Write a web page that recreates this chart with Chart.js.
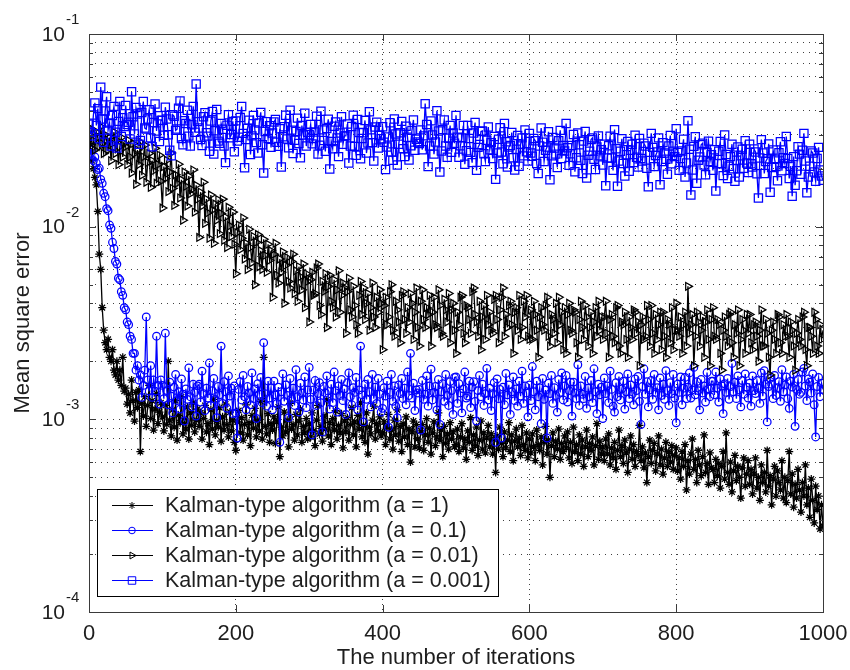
<!DOCTYPE html>
<html>
<head>
<meta charset="utf-8">
<title>Mean square error</title>
<script src="https://cdn.jsdelivr.net/npm/chart.js@4.4.0/dist/chart.umd.min.js"></script>
<style>
  html, body { margin: 0; padding: 0; background: #fff; }
  #wrap { width: 850px; height: 670px; position: relative; }
</style>
</head>
<body>
<div id="wrap"><canvas id="mse" width="850" height="670"></canvas></div>
<script>
// every 2 iterations, one row = 50 iterations
const iterations = []
for (let n = 0; n <= 1000; n += 2) iterations.push(n)

const mseA1 = [
  0.027, 0.025, 0.022, 0.020, 0.018, 0.0165, 0.012, 0.0072, 0.0060, 0.0038, 0.0029, 0.0025, 0.0023, 0.0026, 0.0021, 0.0020, 0.0023, 0.0018, 0.0017, 0.0020, 0.0016, 0.0018, 0.0015, 0.0021, 0.0014,
  0.00145, 0.0012, 0.00135, 0.00108, 0.0016, 0.00125, 0.00098, 0.00138, 0.00115, 0.00142, 0.00068, 0.00121, 0.00104, 0.00131, 0.00092, 0.00118, 0.0015, 0.00101, 0.00125, 0.00088, 0.00113, 0.00136, 0.00095, 0.00109, 0.00122,
  0.00103, 0.00087, 0.00118, 0.00094, 0.0020, 0.00099, 0.00082, 0.00112, 0.00091, 0.00125, 0.00078, 0.00105, 0.00096, 0.00131, 0.00084, 0.00101, 0.00089, 0.00116, 0.00079, 0.00108, 0.00093, 0.00122, 0.00086, 0.00099, 0.00113,
  0.00092, 0.00108, 0.00079, 0.00101, 0.00118, 0.00086, 0.00095, 0.00074, 0.00112, 0.00089, 0.00127, 0.00083, 0.00098, 0.00091, 0.00115, 0.00077, 0.00103, 0.00088, 0.0012, 0.00094, 0.00081, 0.00109, 0.00087, 0.00099, 0.00076,
  0.00069, 0.00097, 0.00111, 0.00085, 0.00102, 0.00078, 0.00094, 0.00119, 0.00083, 0.00096, 0.00073, 0.00105, 0.0009, 0.00114, 0.00081, 0.00099, 0.00087, 0.00124, 0.00079, 0.0021, 0.00092, 0.00084, 0.00107, 0.00076, 0.00095,
  0.00088, 0.00103, 0.00075, 0.00097, 0.00116, 0.00064, 0.00091, 0.00082, 0.00109, 0.00086, 0.00099, 0.00072, 0.00121, 0.00089, 0.00094, 0.00078, 0.00106, 0.00083, 0.00098, 0.00113, 0.00076, 0.00092, 0.00085, 0.00101, 0.00079,
  0.00095, 0.00081, 0.00108, 0.00087, 0.00073, 0.00099, 0.00118, 0.00084, 0.00092, 0.00077, 0.00104, 0.00089, 0.00126, 0.00082, 0.00096, 0.00074, 0.00101, 0.00088, 0.00111, 0.00079, 0.00093, 0.00085, 0.00107, 0.00071, 0.00098,
  0.00086, 0.00102, 0.00078, 0.00094, 0.00115, 0.00083, 0.00097, 0.00072, 0.00105, 0.00089, 0.00122, 0.00081, 0.00093, 0.00076, 0.00108, 0.00066, 0.00091, 0.00084, 0.00099, 0.00117, 0.00079, 0.00095, 0.00087, 0.00103, 0.00082,
  0.00085, 0.00097, 0.00074, 0.00091, 0.00106, 0.00079, 0.00088, 0.0007, 0.00099, 0.00083, 0.00112, 0.00077, 0.00092, 0.00068, 0.00095, 0.00081, 0.00103, 0.00074, 0.00089, 0.0006, 0.00086, 0.00098, 0.00072, 0.00094, 0.00079,
  0.00071, 0.00087, 0.00094, 0.00069, 0.00083, 0.00101, 0.00076, 0.0009, 0.00066, 0.00085, 0.00097, 0.00073, 0.00081, 0.00108, 0.00078, 0.00088, 0.00064, 0.00092, 0.00075, 0.00084, 0.0007, 0.00096, 0.00079, 0.00086, 0.00072,
  0.00074, 0.00089, 0.00068, 0.00081, 0.00095, 0.00071, 0.00079, 0.00062, 0.00087, 0.00076, 0.00102, 0.00069, 0.00083, 0.00073, 0.00091, 0.00065, 0.00078, 0.00098, 0.0007, 0.00085, 0.00067, 0.0008, 0.00093, 0.00072, 0.00084,
  0.00066, 0.00079, 0.00053, 0.00082, 0.0007, 0.00091, 0.00075, 0.00064, 0.00086, 0.00071, 0.00078, 0.00096, 0.00068, 0.00083, 0.00061, 0.00077, 0.00089, 0.00072, 0.0008, 0.00065, 0.00093, 0.00074, 0.00069, 0.00085, 0.00063,
  0.00079, 0.00067, 0.00084, 0.00072, 0.00061, 0.00088, 0.00074, 0.00069, 0.00081, 0.00058, 0.00076, 0.00092, 0.00066, 0.00078, 0.0005, 0.00073, 0.00085, 0.00064, 0.00077, 0.0007, 0.00089, 0.00062, 0.00075, 0.00068, 0.00082,
  0.00071, 0.00086, 0.00063, 0.00076, 0.00059, 0.00091, 0.00068, 0.00074, 0.00061, 0.00083, 0.00066, 0.00078, 0.00057, 0.00072, 0.00088, 0.00064, 0.00075, 0.00069, 0.00081, 0.00058, 0.00073, 0.00095, 0.00062, 0.00077, 0.00066,
  0.00072, 0.00061, 0.00079, 0.00066, 0.00084, 0.00058, 0.00071, 0.00063, 0.00076, 0.00055, 0.00069, 0.00088, 0.00064, 0.00073, 0.00059, 0.00078, 0.00067, 0.00053, 0.0007, 0.00082, 0.00062, 0.00074, 0.00057, 0.00068, 0.00065,
  0.00093, 0.00061, 0.00072, 0.00056, 0.00067, 0.00047, 0.00064, 0.00078, 0.00059, 0.00069, 0.00075, 0.00054, 0.00066, 0.00082, 0.00058, 0.0007, 0.00052, 0.00063, 0.00076, 0.00057, 0.00068, 0.0006, 0.00073, 0.00055, 0.00065,
  0.00071, 0.00054, 0.00063, 0.00049, 0.00068, 0.00057, 0.00074, 0.00043, 0.00061, 0.00052, 0.00066, 0.00079, 0.00055, 0.00062, 0.00047, 0.00069, 0.00058, 0.00051, 0.00064, 0.00083, 0.00053, 0.00059, 0.00046, 0.00067, 0.00056,
  0.00055, 0.00047, 0.00062, 0.00051, 0.00059, 0.00044, 0.00057, 0.00068, 0.00049, 0.00085, 0.00053, 0.00046, 0.0006, 0.00042, 0.00054, 0.00065, 0.00048, 0.00057, 0.0005, 0.00039, 0.00056, 0.00063, 0.00045, 0.00052, 0.00061,
  0.00046, 0.00055, 0.00041, 0.00052, 0.00063, 0.00044, 0.0005, 0.00038, 0.00058, 0.00047, 0.00053, 0.00042, 0.00069, 0.00045, 0.00051, 0.00036, 0.00049, 0.00057, 0.0004, 0.00054, 0.00047, 0.00043, 0.00061, 0.00039, 0.0005,
  0.00037, 0.00048, 0.00068, 0.00041, 0.00052, 0.00035, 0.00046, 0.00039, 0.00055, 0.00043, 0.00033, 0.00047, 0.0004, 0.00058, 0.00036, 0.00044, 0.00031, 0.00049, 0.00038, 0.00029, 0.00045, 0.00034, 0.0004, 0.00027, 0.00036,
  0.00028
]

const mseA01 = [
  0.026, 0.024, 0.025, 0.022, 0.023, 0.0214, 0.0198, 0.0201, 0.0176, 0.0168, 0.0149, 0.0143, 0.0124, 0.0121, 0.0102, 0.0098, 0.0083, 0.0077, 0.0066, 0.0064, 0.0054, 0.0053, 0.0046, 0.0044, 0.0038,
  0.0037, 0.0032, 0.0031, 0.0027, 0.0026, 0.0022, 0.0022, 0.0018, 0.0019, 0.0016, 0.0017, 0.0013, 0.0015, 0.0018, 0.0034, 0.0016, 0.0014, 0.0019, 0.0013, 0.0016, 0.0014, 0.0027, 0.0015, 0.0012, 0.0016,
  0.0015, 0.00128, 0.0028, 0.00141, 0.00119, 0.00156, 0.00132, 0.00108, 0.00147, 0.00171, 0.00125, 0.00139, 0.00113, 0.00162, 0.00135, 0.00098, 0.00144, 0.00127, 0.00185, 0.00131, 0.00116, 0.00152, 0.00138, 0.00104, 0.00149,
  0.00152, 0.00123, 0.00178, 0.00136, 0.00111, 0.00145, 0.00129, 0.00196, 0.00118, 0.00141, 0.00163, 0.00127, 0.00102, 0.00148, 0.00134, 0.0024, 0.00121, 0.00157, 0.00139, 0.00114, 0.00168, 0.00132, 0.00145, 0.00107, 0.00149,
  0.00108, 0.0008, 0.00143, 0.00157, 0.00126, 0.00169, 0.00131, 0.00112, 0.00148, 0.00137, 0.00119, 0.00174, 0.00128, 0.00144, 0.00101, 0.00153, 0.00135, 0.00165, 0.00122, 0.0025, 0.00136, 0.00117, 0.00158, 0.00129, 0.00146,
  0.00112, 0.00158, 0.00134, 0.00121, 0.00147, 0.00076, 0.00139, 0.00172, 0.00124, 0.00151, 0.00133, 0.00102, 0.00163, 0.00128, 0.00145, 0.00118, 0.00181, 0.00131, 0.00109, 0.00154, 0.00137, 0.00126, 0.00166, 0.00115, 0.00142,
  0.00186, 0.00127, 0.00083, 0.00142, 0.00159, 0.00118, 0.00136, 0.00155, 0.00122, 0.00086, 0.00148, 0.00137, 0.00168, 0.00129, 0.00113, 0.00152, 0.00122, 0.00176, 0.00141, 0.00109, 0.00149, 0.00133, 0.00161, 0.00125, 0.00144,
  0.00106, 0.00155, 0.00174, 0.00131, 0.00119, 0.00146, 0.00138, 0.00165, 0.00112, 0.00142, 0.0024, 0.00134, 0.00097, 0.00152, 0.00127, 0.00161, 0.00139, 0.00116, 0.00171, 0.00128, 0.00147, 0.00121, 0.00163, 0.00135, 0.00109,
  0.00114, 0.00146, 0.00132, 0.00158, 0.00091, 0.00138, 0.00171, 0.00124, 0.00149, 0.00117, 0.00102, 0.00151, 0.00136, 0.00163, 0.00128, 0.00145, 0.00119, 0.00176, 0.00133, 0.0022, 0.00129, 0.00154, 0.00111, 0.00142, 0.00137,
  0.00143, 0.00088, 0.00159, 0.00127, 0.00135, 0.00168, 0.00117, 0.00149, 0.00182, 0.00126, 0.00138, 0.00148, 0.00112, 0.00161, 0.00094, 0.00139, 0.00153, 0.00124, 0.00171, 0.00133, 0.00118, 0.00157, 0.00141, 0.00106, 0.00165,
  0.00166, 0.00121, 0.00153, 0.00137, 0.00108, 0.00144, 0.00176, 0.00129, 0.00132, 0.00158, 0.00115, 0.00147, 0.00157, 0.00124, 0.00098, 0.00141, 0.00169, 0.00131, 0.00152, 0.00118, 0.00136, 0.00184, 0.00126, 0.00145, 0.00111,
  0.00136, 0.00155, 0.00076, 0.00162, 0.00128, 0.00143, 0.0008, 0.00147, 0.00119, 0.00173, 0.00134, 0.00151, 0.00106, 0.00139, 0.00166, 0.00125, 0.00144, 0.00117, 0.00158, 0.00132, 0.00178, 0.00121, 0.00149, 0.00137, 0.00103,
  0.00151, 0.00125, 0.00188, 0.00139, 0.00112, 0.00158, 0.00131, 0.00146, 0.00095, 0.00163, 0.00127, 0.00142, 0.0008, 0.00154, 0.00136, 0.00169, 0.00121, 0.00146, 0.00133, 0.00109, 0.00161, 0.00138, 0.00174, 0.00126, 0.00149,
  0.00169, 0.00123, 0.00141, 0.00156, 0.00104, 0.00156, 0.00137, 0.00128, 0.00192, 0.00118, 0.00149, 0.00135, 0.00128, 0.00167, 0.00114, 0.00145, 0.00131, 0.00159, 0.00122, 0.00183, 0.00139, 0.00107, 0.00152, 0.00134, 0.00147,
  0.00101, 0.00164, 0.00136, 0.00149, 0.00122, 0.00178, 0.00143, 0.00117, 0.00109, 0.00155, 0.00131, 0.00167, 0.00126, 0.00144, 0.00158, 0.00113, 0.00139, 0.00172, 0.00128, 0.00151, 0.00135, 0.00119, 0.00162, 0.00141, 0.00167,
  0.00124, 0.00094, 0.00148, 0.00183, 0.00135, 0.00157, 0.00116, 0.00142, 0.00159, 0.00127, 0.00171, 0.00138, 0.00146, 0.00112, 0.00164, 0.00133, 0.00152, 0.00127, 0.00179, 0.00141, 0.00118, 0.00155, 0.00136, 0.00171, 0.00129,
  0.00096, 0.00152, 0.00138, 0.00166, 0.00119, 0.00145, 0.00165, 0.00128, 0.00147, 0.00174, 0.00129, 0.00142, 0.00186, 0.00134, 0.00157, 0.00141, 0.00112, 0.00161, 0.00137, 0.00149, 0.00123, 0.00175, 0.00144, 0.00131, 0.00158,
  0.00158, 0.00134, 0.00176, 0.00145, 0.00123, 0.00162, 0.00149, 0.00107, 0.00153, 0.00138, 0.00163, 0.00127, 0.00148, 0.00195, 0.00139, 0.00156, 0.00128, 0.00168, 0.00142, 0.00116, 0.00159, 0.00135, 0.00172, 0.00147, 0.00129,
  0.00154, 0.00117, 0.00168, 0.00141, 0.00136, 0.00159, 0.00145, 0.00121, 0.00174, 0.00132, 0.00179, 0.00152, 0.00097, 0.00148, 0.00163, 0.00152, 0.00128, 0.00169, 0.00133, 0.00146, 0.00157, 0.00124, 0.00181, 0.00139, 0.00151,
  0.00166, 0.00128, 0.00114, 0.00158, 0.00147, 0.00171, 0.00092, 0.00143, 0.00161, 0.00135, 0.00138, 0.00176, 0.00184, 0.00149, 0.00125, 0.00162, 0.00156, 0.00137, 0.00172, 0.00119, 0.00081, 0.00148, 0.00165, 0.00131, 0.00154,
  0.00143
]

const mseA001 = [
  0.030, 0.027, 0.032, 0.028, 0.025, 0.031, 0.029, 0.026, 0.033, 0.027, 0.024, 0.030, 0.028, 0.025, 0.029, 0.022, 0.027, 0.031, 0.024, 0.028, 0.021, 0.026, 0.029, 0.023, 0.027,
  0.026, 0.021, 0.028, 0.023, 0.019, 0.027, 0.024, 0.0166, 0.025, 0.021, 0.0275, 0.0185, 0.023, 0.0265, 0.017, 0.0215, 0.024, 0.016, 0.022, 0.0195, 0.0255, 0.0168, 0.021, 0.0235, 0.0172,
  0.0125, 0.0205, 0.0178, 0.0221, 0.0152, 0.0192, 0.0241, 0.0158, 0.0129, 0.0186, 0.0168, 0.0211, 0.0141, 0.0175, 0.0108, 0.0192, 0.0162, 0.0128, 0.0183, 0.0148, 0.0156, 0.0197, 0.0119, 0.0164, 0.0139,
  0.0088, 0.0151, 0.0128, 0.017, 0.0104, 0.0139, 0.0118, 0.0087, 0.0146, 0.0122, 0.0082, 0.0131, 0.0108, 0.0138, 0.0092, 0.0117, 0.0139, 0.0085, 0.0112, 0.0078, 0.0126, 0.0101, 0.0089, 0.0119, 0.0081,
  0.0057, 0.0093, 0.0102, 0.0076, 0.0087, 0.0111, 0.0068, 0.0082, 0.006, 0.0097, 0.0078, 0.0065, 0.0089, 0.005, 0.0083, 0.0091, 0.0062, 0.0075, 0.006, 0.0086, 0.0071, 0.0058, 0.0081, 0.0067, 0.0075,
  0.0043, 0.0072, 0.0082, 0.0056, 0.0051, 0.0068, 0.0058, 0.0074, 0.004, 0.0063, 0.0069, 0.0052, 0.0048, 0.0066, 0.0072, 0.0045, 0.0059, 0.0041, 0.0062, 0.0055, 0.0047, 0.0064, 0.0038, 0.0057, 0.0052,
  0.0032, 0.0053, 0.0058, 0.0044, 0.0045, 0.0061, 0.0064, 0.0039, 0.0035, 0.0052, 0.0046, 0.0057, 0.003, 0.0049, 0.0056, 0.0041, 0.0038, 0.0053, 0.0034, 0.0047, 0.0059, 0.0036, 0.0044, 0.0051, 0.0048,
  0.0028, 0.0046, 0.0054, 0.0037, 0.0034, 0.0049, 0.0039, 0.0031, 0.0028, 0.0044, 0.0052, 0.0035, 0.0048, 0.0033, 0.004, 0.0045, 0.0029, 0.0038, 0.0051, 0.0034, 0.003, 0.0043, 0.0036, 0.0047, 0.004,
  0.0023, 0.0039, 0.0043, 0.0031, 0.0034, 0.0046, 0.005, 0.0029, 0.0027, 0.0041, 0.0037, 0.0032, 0.0025, 0.0044, 0.0046, 0.0033, 0.0028, 0.0038, 0.0032, 0.0045, 0.004, 0.0026, 0.0036, 0.0048, 0.003,
  0.0024, 0.0041, 0.0047, 0.0033, 0.003, 0.0038, 0.0035, 0.0044, 0.0024, 0.0036, 0.0043, 0.0031, 0.003, 0.0047, 0.0039, 0.0028, 0.0027, 0.0042, 0.0037, 0.0032, 0.0045, 0.0025, 0.0037, 0.004, 0.0029,
  0.0022, 0.0036, 0.0031, 0.0043, 0.0044, 0.0028, 0.0025, 0.0039, 0.0038, 0.0033, 0.0028, 0.0046, 0.0048, 0.0035, 0.0032, 0.0027, 0.0041, 0.0023, 0.0034, 0.0039, 0.0026, 0.0044, 0.0031, 0.0036, 0.0029,
  0.0028, 0.0042, 0.0044, 0.0033, 0.0025, 0.0037, 0.0043, 0.0048, 0.0027, 0.0035, 0.003, 0.0039, 0.0041, 0.0031, 0.0022, 0.0036, 0.0038, 0.0029, 0.0044, 0.0026, 0.003, 0.0041, 0.0034, 0.0044, 0.0027,
  0.0026, 0.0037, 0.0026, 0.0041, 0.0035, 0.0029, 0.0021, 0.0034, 0.0038, 0.0031, 0.0029, 0.0039, 0.0043, 0.0027, 0.0024, 0.0035, 0.0033, 0.0028, 0.004, 0.0025, 0.0043, 0.0031, 0.0036, 0.0023, 0.0038,
  0.0022, 0.0035, 0.004, 0.0029, 0.0028, 0.0037, 0.0036, 0.0025, 0.0021, 0.0033, 0.0041, 0.003, 0.0026, 0.0039, 0.0034, 0.0024, 0.003, 0.0036, 0.0022, 0.0032, 0.0038, 0.0027, 0.0041, 0.0029, 0.0034,
  0.0026, 0.0034, 0.0041, 0.0028, 0.0021, 0.0033, 0.0035, 0.0027, 0.0025, 0.0038, 0.0039, 0.0024, 0.0022, 0.0032, 0.0031, 0.0036, 0.0026, 0.0021, 0.0034, 0.003, 0.0026, 0.0037, 0.0036, 0.0028, 0.0032,
  0.0019, 0.0031, 0.0034, 0.0026, 0.0027, 0.0039, 0.0033, 0.0024, 0.0039, 0.0028, 0.0022, 0.0035, 0.0026, 0.0031, 0.0036, 0.0023, 0.0036, 0.0027, 0.0021, 0.0033, 0.0031, 0.0025, 0.0038, 0.0023, 0.0029,
  0.004, 0.0029, 0.0027, 0.0034, 0.0022, 0.0031, 0.0036, 0.0024, 0.0049, 0.0028, 0.0031, 0.0035, 0.0019, 0.0027, 0.0036, 0.0032, 0.0024, 0.0029, 0.0034, 0.0021, 0.0032, 0.0037, 0.0026, 0.0019, 0.0033,
  0.0038, 0.0027, 0.0026, 0.0033, 0.0031, 0.0022, 0.0018, 0.0029, 0.0034, 0.0027, 0.0024, 0.0035, 0.0036, 0.0025, 0.0021, 0.0031, 0.0028, 0.0037, 0.0019, 0.0026, 0.0033, 0.0029, 0.0022, 0.0035, 0.0028,
  0.0035, 0.0025, 0.0023, 0.0031, 0.0032, 0.0027, 0.002, 0.0029, 0.0037, 0.0024, 0.0024, 0.0033, 0.0028, 0.0021, 0.0017, 0.0029, 0.0032, 0.0026, 0.0022, 0.0035, 0.0034, 0.0025, 0.0022, 0.0031, 0.0027,
  0.0035, 0.0027, 0.0021, 0.0032, 0.0029, 0.0024, 0.0018, 0.0028, 0.0033, 0.0026, 0.0024, 0.0034, 0.0036, 0.0023, 0.0019, 0.003, 0.003, 0.0027, 0.0022, 0.0036, 0.0033, 0.0024, 0.0022, 0.0031, 0.0026,
  0.0029
]

const mseA0001 = [
  0.034, 0.031, 0.0295, 0.038, 0.0439, 0.0335, 0.041, 0.0286, 0.053, 0.0362, 0.0274, 0.0398, 0.0472, 0.0317, 0.0345, 0.0262, 0.0378, 0.0421, 0.0309, 0.0256, 0.0352, 0.0446, 0.0294, 0.0368, 0.0331,
  0.0425, 0.0339, 0.0348, 0.0285, 0.0501, 0.0372, 0.0303, 0.0415, 0.0384, 0.0268, 0.028, 0.0391, 0.0446, 0.0325, 0.0321, 0.0362, 0.0405, 0.0289, 0.026, 0.0347, 0.0433, 0.0314, 0.0376, 0.0277, 0.0356,
  0.0357, 0.0298, 0.0417, 0.0362, 0.030, 0.0249, 0.0233, 0.0381, 0.0374, 0.0316, 0.0321, 0.0412, 0.0449, 0.0287, 0.0266, 0.0355, 0.0343, 0.0402, 0.0295, 0.0262, 0.0338, 0.0421, 0.0309, 0.055, 0.0351,
  0.0325, 0.0283, 0.0264, 0.0372, 0.039, 0.0307, 0.0295, 0.0246, 0.0353, 0.0396, 0.0238, 0.0315, 0.0406, 0.0278, 0.0271, 0.0343, 0.032, 0.0262, 0.0215, 0.0336, 0.0381, 0.0289, 0.0301, 0.0352, 0.0245,
  0.0354, 0.0278, 0.0291, 0.0369, 0.042, 0.0305, 0.0202, 0.0283, 0.0324, 0.0357, 0.0237, 0.0296, 0.0378, 0.0318, 0.0273, 0.0241, 0.0345, 0.0392, 0.0266, 0.019, 0.0312, 0.0351, 0.0287, 0.0334, 0.0258,
  0.0306, 0.0349, 0.036, 0.0274, 0.0261, 0.0322, 0.0204, 0.0293, 0.033, 0.0379, 0.0285, 0.0257, 0.0402, 0.0317, 0.024, 0.0281, 0.0312, 0.0366, 0.027, 0.0228, 0.0335, 0.0299, 0.0388, 0.0262, 0.0309,
  0.030, 0.0339, 0.0269, 0.0287, 0.031, 0.0374, 0.0238, 0.0265, 0.0397, 0.0318, 0.028, 0.0246, 0.0323, 0.0361, 0.0199, 0.0277, 0.0254, 0.0332, 0.0349, 0.0289, 0.0231, 0.0306, 0.0372, 0.0268, 0.0296,
  0.0296, 0.0341, 0.0214, 0.0262, 0.0331, 0.0379, 0.0261, 0.0235, 0.036, 0.0308, 0.0225, 0.0287, 0.0307, 0.0356, 0.0241, 0.0272, 0.0395, 0.0318, 0.0273, 0.0219, 0.0329, 0.0348, 0.0256, 0.0297, 0.0286,
  0.033, 0.0274, 0.0198, 0.0259, 0.0292, 0.0346, 0.0244, 0.0221, 0.0362, 0.0303, 0.0209, 0.0268, 0.0307, 0.0352, 0.0254, 0.0231, 0.0332, 0.0291, 0.0222, 0.0263, 0.0316, 0.0358, 0.0249, 0.0284, 0.0275,
  0.027, 0.0318, 0.0251, 0.0296, 0.0435, 0.0339, 0.0205, 0.0262, 0.0354, 0.0299, 0.0238, 0.0275, 0.040, 0.0314, 0.0192, 0.0247, 0.0319, 0.0358, 0.0262, 0.0229, 0.0288, 0.0335, 0.0243, 0.0306, 0.0271,
  0.0378, 0.0291, 0.0229, 0.0263, 0.0289, 0.0335, 0.0211, 0.0248, 0.0335, 0.0287, 0.0243, 0.0215, 0.0306, 0.0347, 0.0196, 0.0258, 0.0267, 0.0312, 0.0314, 0.0239, 0.0218, 0.0281, 0.0329, 0.0251, 0.0273,
  0.0226, 0.0294, 0.0176, 0.0241, 0.0284, 0.0326, 0.0244, 0.0212, 0.0343, 0.0276, 0.0204, 0.0259, 0.0264, 0.0308, 0.0228, 0.0197, 0.0252, 0.0297, 0.0206, 0.0268, 0.0289, 0.0233, 0.0318, 0.0245, 0.0219,
  0.0305, 0.0241, 0.0232, 0.0287, 0.0279, 0.0213, 0.0189, 0.0262, 0.0325, 0.0274, 0.0218, 0.0249, 0.0259, 0.0311, 0.0175, 0.0233, 0.029, 0.0256, 0.0238, 0.0203, 0.0279, 0.0316, 0.0226, 0.0264, 0.0247,
  0.0343, 0.0257, 0.0208, 0.0239, 0.0264, 0.0301, 0.0193, 0.0228, 0.0306, 0.0266, 0.0221, 0.0189, 0.0278, 0.0312, 0.0179, 0.0235, 0.0246, 0.0283, 0.0289, 0.0224, 0.0198, 0.0259, 0.0296, 0.0233, 0.0251,
  0.0209, 0.0268, 0.0163, 0.0227, 0.0263, 0.0295, 0.0227, 0.0196, 0.0319, 0.0254, 0.0162, 0.0219, 0.0246, 0.0286, 0.0213, 0.0183, 0.0236, 0.0277, 0.0194, 0.0249, 0.0268, 0.0215, 0.0298, 0.0229, 0.0204,
  0.0287, 0.0226, 0.0219, 0.0271, 0.0262, 0.0201, 0.0161, 0.0243, 0.0305, 0.0258, 0.0205, 0.0234, 0.0244, 0.0289, 0.0165, 0.0218, 0.0273, 0.0241, 0.0224, 0.0187, 0.0262, 0.0297, 0.0212, 0.0246, 0.0231,
  0.0322, 0.0243, 0.0196, 0.0226, 0.0247, 0.0284, 0.0181, 0.0214, 0.0355, 0.0252, 0.0146, 0.0197, 0.0261, 0.0293, 0.0168, 0.0221, 0.023, 0.0266, 0.0271, 0.0209, 0.0186, 0.0243, 0.0278, 0.0218, 0.0236,
  0.0196, 0.0251, 0.0153, 0.0212, 0.0246, 0.0277, 0.0213, 0.0184, 0.0299, 0.0237, 0.0178, 0.0206, 0.0231, 0.0268, 0.020, 0.0172, 0.0221, 0.0259, 0.0181, 0.0233, 0.0252, 0.0201, 0.0279, 0.0214, 0.0191,
  0.0268, 0.0212, 0.0204, 0.0253, 0.0244, 0.0188, 0.0141, 0.0227, 0.0283, 0.0241, 0.0189, 0.0218, 0.0225, 0.0269, 0.0151, 0.0203, 0.025, 0.0224, 0.0205, 0.0173, 0.0242, 0.0276, 0.0195, 0.0228, 0.0213,
  0.0294, 0.0226, 0.0178, 0.0206, 0.0144, 0.0231, 0.0164, 0.0195, 0.026, 0.0238, 0.0187, 0.0249, 0.0305, 0.0219, 0.015, 0.0181, 0.0206, 0.0247, 0.0241, 0.0192, 0.0172, 0.0226, 0.0258, 0.0197, 0.0183,
  0.0174
]

const legendLabels = [
  'Kalman-type algorithm (a = 1)',
  'Kalman-type algorithm (a = 0.1)',
  'Kalman-type algorithm (a = 0.01)',
  'Kalman-type algorithm (a = 0.001)'
]
const xTickValues = [0, 200, 400, 600, 800, 1000]
const xTickLabels = ['0', '200', '400', '600', '800', '1000']
const yTickValues = [1e-4, 1e-3, 1e-2, 1e-1]
const yTickExponents = ['-4', '-3', '-2', '-1']
const xTitle = 'The number of iterations'
const yTitle = 'Mean square error'

const fontFamily = '"Liberation Sans", Arial, sans-serif'
const textColor = '#1e1e1e'

function series(label, values, color, style, radius, rotation, order) {
  return {
    label: label,
    data: values.map((v, i) => ({ x: iterations[i], y: v })),
    borderColor: color,
    borderWidth: 1.3,
    pointStyle: style,
    pointRadius: radius,
    pointRotation: rotation,
    pointBorderColor: color,
    pointBorderWidth: 1.25,
    pointBackgroundColor: 'rgba(0,0,0,0)',
    tension: 0,
    fill: false,
    order: order
  }
}

const datasets = [
  series(legendLabels[0], mseA1, '#000000', 'star', 4, 0, 4),
  series(legendLabels[1], mseA01, '#0000ff', 'circle', 3.8, 0, 3),
  series(legendLabels[2], mseA001, '#000000', 'triangle', 4.5, 90, 2),
  series(legendLabels[3], mseA0001, '#0000ff', 'rect', 5.8, 0, 1)
]

// box, inward ticks, tick labels, titles and the legend box
const matlabAxes = {
  id: 'matlabAxes',
  afterDraw(chart) {
    const ctx = chart.ctx
    const area = chart.chartArea
    const xs = chart.scales.x
    const ys = chart.scales.y
    ctx.save()

    ctx.strokeStyle = '#3a3a3a'
    ctx.lineWidth = 1
    ctx.strokeRect(area.left + 0.5, area.top + 0.5, area.right - area.left, area.bottom - area.top)
    ctx.beginPath()
    for (const v of xTickValues) {
      const px = Math.round(xs.getPixelForValue(v)) + 0.5
      ctx.moveTo(px, area.bottom); ctx.lineTo(px, area.bottom - 7)
      ctx.moveTo(px, area.top); ctx.lineTo(px, area.top + 7)
    }
    for (const t of ys.ticks) {
      const py = Math.round(ys.getPixelForValue(t.value)) + 0.5
      const len = yTickValues.includes(t.value) ? 7 : 4
      ctx.moveTo(area.left, py); ctx.lineTo(area.left + len, py)
      ctx.moveTo(area.right, py); ctx.lineTo(area.right - len, py)
    }
    ctx.stroke()

    ctx.fillStyle = textColor
    ctx.font = '22px ' + fontFamily
    ctx.textAlign = 'center'
    ctx.textBaseline = 'alphabetic'
    xTickValues.forEach((v, i) => {
      ctx.fillText(xTickLabels[i], xs.getPixelForValue(v), area.bottom + 28)
    })

    ctx.textBaseline = 'middle'
    yTickValues.forEach((v, i) => {
      const py = ys.getPixelForValue(v)
      ctx.font = '21px ' + fontFamily
      ctx.textAlign = 'right'
      ctx.fillText('10', area.left - 24, py + 1)
      ctx.font = '15px ' + fontFamily
      ctx.textAlign = 'left'
      ctx.fillText(yTickExponents[i], area.left - 23, py - 14)
    })

    ctx.font = '22px ' + fontFamily
    ctx.textAlign = 'center'
    ctx.textBaseline = 'alphabetic'
    ctx.fillText(xTitle, (area.left + area.right) / 2, area.bottom + 52)
    ctx.save()
    ctx.translate(29, (area.top + area.bottom) / 2)
    ctx.rotate(-Math.PI / 2)
    ctx.fillText(yTitle, 0, 0)
    ctx.restore()

    // legend
    ctx.font = '21.5px ' + fontFamily
    let textW = 0
    legendLabels.forEach(l => { textW = Math.max(textW, ctx.measureText(l).width) })
    const lx = area.left + 8
    const rowH = 25
    const lh = rowH * legendLabels.length + 7
    const ly = area.bottom - 16 - lh
    const lw = Math.round(68 + textW + 7)
    ctx.fillStyle = '#ffffff'
    ctx.fillRect(lx, ly, lw, lh)
    ctx.strokeStyle = '#000000'
    ctx.lineWidth = 1
    ctx.strokeRect(lx + 0.5, ly + 0.5, lw, lh)
    datasets.forEach((ds, i) => {
      const cy = Math.round(ly + 16 + i * rowH) + 0.5
      ctx.strokeStyle = ds.borderColor
      ctx.lineWidth = 1
      ctx.beginPath()
      ctx.moveTo(lx + 15, cy); ctx.lineTo(lx + 56, cy)
      ctx.stroke()
      ctx.fillStyle = 'rgba(0,0,0,0)'
      Chart.helpers.drawPoint(ctx, {
        pointStyle: ds.pointStyle,
        rotation: ds.pointRotation,
        radius: ds.pointRadius - 0.5,
        borderWidth: 1
      }, lx + 35, cy)
      ctx.fillStyle = textColor
      ctx.textAlign = 'left'
      ctx.textBaseline = 'middle'
      ctx.fillText(ds.label, lx + 68, cy + 1)
    })

    ctx.restore()
  }
}

const config = {
  type: 'line',
  data: { datasets: datasets },
  options: {
    responsive: false,
    animation: false,
    events: [],
    layout: { padding: { top: 34, right: 27, bottom: 0, left: 0 } },
    plugins: {
      legend: { display: false },
      tooltip: { enabled: false }
    },
    scales: {
      x: {
        type: 'linear',
        min: 0,
        max: 1000,
        ticks: { stepSize: 200, display: false },
        grid: { color: 'rgba(0,0,0,0.75)', lineWidth: 1, drawTicks: false },
        border: { display: false, dash: [1, 4] },
        afterFit: s => { s.height = 58 }
      },
      y: {
        type: 'logarithmic',
        min: 1e-4,
        max: 1e-1,
        ticks: { display: false },
        grid: { color: 'rgba(0,0,0,0.75)', lineWidth: 1, drawTicks: false },
        border: { display: false, dash: [1, 5] },
        afterBuildTicks: s => {
          const t = []
          yTickValues.forEach((d, i) => {
            if (i === yTickValues.length - 1) { t.push({ value: d }); return }
            for (let k = 1; k < 10; k++) t.push({ value: k === 1 ? d : d * k })
          })
          s.ticks = t
        },
        afterFit: s => { s.width = 89 }
      }
    }
  },
  plugins: [matlabAxes]
}

const mseChart = new Chart(document.getElementById('mse'), config)
</script>
</body>
</html>
